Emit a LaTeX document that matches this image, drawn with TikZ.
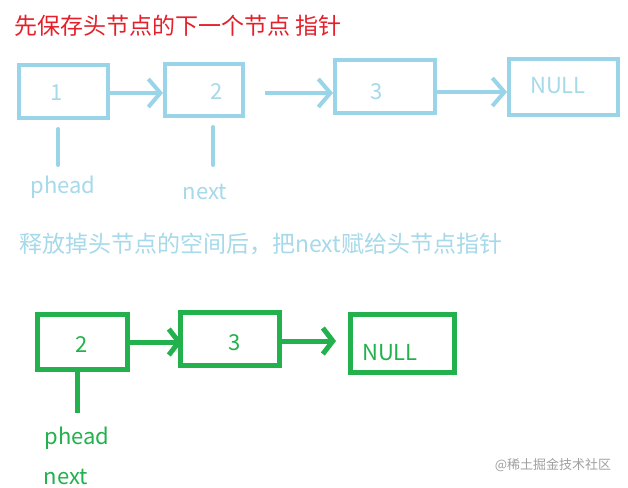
\documentclass[tikz,border=0pt]{standalone}
\usepackage{fontspec}
\setmainfont{Noto Sans CJK SC}
\usetikzlibrary{arrows.meta}
\definecolor{lb}{HTML}{9AD4E8}
\definecolor{lbt}{HTML}{A6D9EA}
\definecolor{rd}{HTML}{E5202A}
\definecolor{gr}{HTML}{22B14C}
\definecolor{wm}{HTML}{A0A0A0}
\begin{document}
\begin{tikzpicture}[x=1pt,y=-1pt,
  bbox/.style={draw=lb, line width=4pt, inner sep=0pt},
  gbox/.style={draw=gr, line width=5pt, inner sep=0pt},
  barr/.style={draw=lb, line width=4pt, -{Straight Barb[length=12pt,width=28pt,line width=4pt]}},
  garr/.style={draw=gr, line width=5pt, -{Straight Barb[length=10pt,width=26pt,line width=5pt]}},
  bline/.style={draw=lb, line width=4pt, line cap=round},
  gline/.style={draw=gr, line width=5pt},
  btxt/.style={text=lbt, font=\fontsize{22}{24}\selectfont, inner sep=0pt},
  gtxt/.style={text=gr, font=\fontsize{22}{24}\selectfont, inner sep=0pt},
  ttl/.style={font=\fontsize{23}{25}\selectfont, anchor=west, inner sep=0pt},
]
\useasboundingbox (0,0) rectangle (628,487);
\fill[white] (0,0) rectangle (628,487);

% titles
\node[ttl, text=rd] (t1) at (14,26) {先保存头节点的下一个节点 指针};
\node[ttl, text=lbt] (t2) at (19,244) {释放掉头节点的空间后，把next赋给头节点指针};

% top list
\node[bbox, minimum width=89pt, minimum height=53pt] (b1) at (63.5,91.5) {};
\node[bbox, minimum width=78pt, minimum height=52pt] (b2) at (204,90) {};
\node[bbox, minimum width=100pt, minimum height=53pt] (b3) at (385,86.5) {};
\node[bbox, minimum width=109pt, minimum height=56pt] (b4) at (563.5,87) {};
\node[btxt] (n1) at (57,93) {1};
\node[btxt] (n2) at (217,92) {2};
\node[btxt] (n3) at (377,92) {3};
\node[btxt] (n4) at (558,86) {NULL};

\draw[barr] (b1.east |- 0,93) -- (b2.west |- 0,93);
\draw[barr] ([xshift=20pt]b2.east |- 0,93) -- (b3.west |- 0,93);
\draw[barr] (b3.east |- 0,92) -- (b4.west |- 0,92);

\coordinate (v1a) at (58,129);
\coordinate (v1b) at (58,165);
\coordinate (v2a) at (213,127);
\coordinate (v2b) at (213,165);
\draw[bline] (v1a) -- (v1b);
\draw[bline] (v2a) -- (v2b);
\node[btxt] (ph1) at (63,187) {phead};
\node[btxt] (nx1) at (205,192) {next};

% bottom list
\node[gbox, minimum width=90pt, minimum height=55pt] (g1) at (82.5,342) {};
\node[gbox, minimum width=99pt, minimum height=53pt] (g2) at (230,339) {};
\node[gbox, minimum width=104pt, minimum height=58pt] (g3) at (402.5,343.5) {};
\node[gtxt] (m1) at (82,345) {2};
\node[gtxt] (m2) at (235,343) {3};
\node[gtxt] (m3) at (390,353) {NULL};

\draw[garr] (g1.east |- 0,342) -- ([xshift=4pt]g2.west |- 0,342);
\draw[garr] (g2.east |- 0,341) -- ([xshift=-12pt]g3.west |- 0,341);

\coordinate (w1) at (77,413);
\draw[gline] (g1.south -| w1) -- (w1);
\node[gtxt] (ph2) at (77,438) {phead};
\node[gtxt] (nx2) at (66,477) {next};

\node[text=wm, font=\fontsize{13}{15}\selectfont, inner sep=0pt] (wmk) at (553,465) {@稀土掘金技术社区};
\end{tikzpicture}
\end{document}
